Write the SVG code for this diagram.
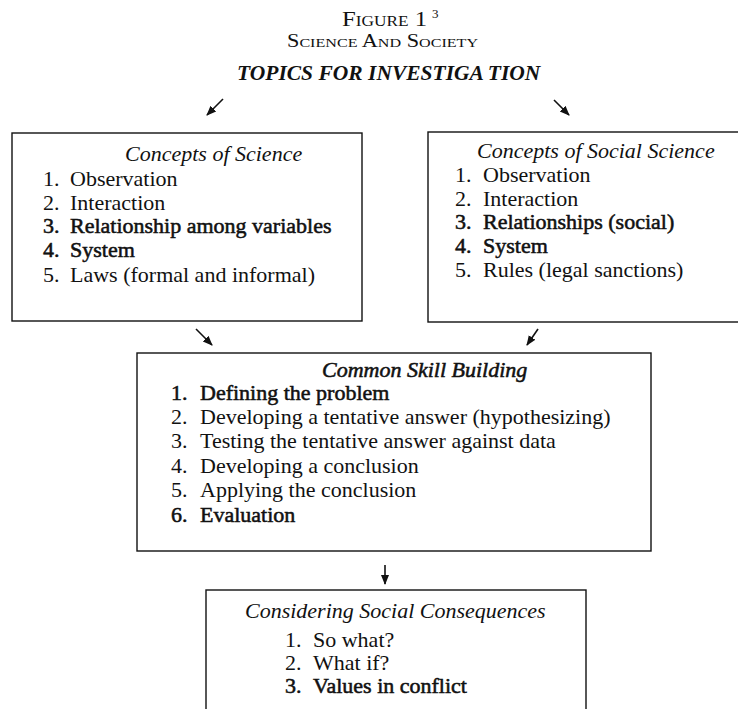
<svg xmlns="http://www.w3.org/2000/svg" width="738" height="709" viewBox="0 0 738 709">
<style>
text{font-family:"Liberation Serif","Times New Roman",serif;fill:#111;}
.t{font-size:22px;}
.h{font-size:22px;font-style:italic;}
.d{stroke:#111;stroke-width:0.55px;}
.box{fill:none;stroke:#111;stroke-width:1.4;}
.arr{stroke:#111;stroke-width:1.6;fill:none;marker-end:url(#ah);}
</style>
<defs>
<marker id="ah" markerUnits="userSpaceOnUse" markerWidth="10" markerHeight="10" viewBox="0 0 10 10" refX="9" refY="5" orient="auto">
<path d="M0,1 L10,5 L0,9 Z" fill="#111"/>
</marker>
</defs>
<rect width="738" height="709" fill="#fff"/>
<g id="title">
<text x="342" y="26" font-size="20" font-variant="small-caps" textLength="85" lengthAdjust="spacingAndGlyphs">Figure 1</text>
<text x="432" y="18" font-size="13">3</text>
<text x="287" y="47" font-size="18" font-variant="small-caps" textLength="191" lengthAdjust="spacingAndGlyphs">Science And Society</text>
<text x="237" y="80" font-size="21.5" font-style="italic" font-weight="bold">TOPICS FOR INVESTIGA<tspan dx="5">TION</tspan></text>
</g>
<g id="connectors">
<line class="arr" x1="223" y1="99" x2="207" y2="115"/>
<line class="arr" x1="554" y1="100" x2="569" y2="115"/>
<line class="arr" x1="196" y1="329" x2="212" y2="345"/>
<line class="arr" x1="538" y1="329" x2="527" y2="345"/>
<line class="arr" x1="385" y1="565" x2="385" y2="584"/>
</g>
<g id="concepts-science">
<rect class="box" x="12" y="133" width="350" height="188"/>
<text class="h" x="125" y="161">Concepts of Science</text>
<text class="t" x="43" y="186">1.</text><text class="t" x="70" y="186">Observation</text>
<text class="t" x="43" y="210">2.</text><text class="t" x="70" y="210">Interaction</text>
<text class="t d" x="43" y="233">3.</text><text class="t d" x="70" y="233">Relationship among variables</text>
<text class="t d" x="43" y="257">4.</text><text class="t d" x="70" y="257">System</text>
<text class="t" x="43" y="282">5.</text><text class="t" x="70" y="282">Laws (formal and informal)</text>
</g>
<g id="concepts-social-science">
<rect class="box" x="428" y="132" width="330" height="190"/>
<text class="h" x="477" y="158">Concepts of Social Science</text>
<text class="t" x="455" y="182">1.</text><text class="t" x="483" y="182">Observation</text>
<text class="t" x="455" y="206">2.</text><text class="t" x="483" y="206">Interaction</text>
<text class="t d" x="455" y="229">3.</text><text class="t d" x="483" y="229">Relationships (social)</text>
<text class="t d" x="455" y="253">4.</text><text class="t d" x="483" y="253">System</text>
<text class="t" x="455" y="277">5.</text><text class="t" x="483" y="277">Rules (legal sanctions)</text>
</g>
<g id="common-skill-building">
<rect class="box" x="137" y="353" width="514" height="198"/>
<text class="h d" x="322" y="377">Common Skill Building</text>
<text class="t d" x="171" y="400">1.</text><text class="t d" x="200" y="400">Defining the problem</text>
<text class="t" x="171" y="424">2.</text><text class="t" x="200" y="424">Developing a tentative answer (hypothesizing)</text>
<text class="t" x="171" y="448">3.</text><text class="t" x="200" y="448">Testing the tentative answer against data</text>
<text class="t" x="171" y="473">4.</text><text class="t" x="200" y="473">Developing a conclusion</text>
<text class="t" x="171" y="497">5.</text><text class="t" x="200" y="497">Applying the conclusion</text>
<text class="t d" x="171" y="522">6.</text><text class="t d" x="200" y="522">Evaluation</text>
</g>
<g id="social-consequences">
<rect class="box" x="206" y="590" width="380" height="140"/>
<text class="h" x="245" y="618">Considering Social Consequences</text>
<text class="t" x="285" y="647">1.</text><text class="t" x="313" y="647">So what?</text>
<text class="t" x="285" y="670">2.</text><text class="t" x="313" y="670">What if?</text>
<text class="t d" x="285" y="693">3.</text><text class="t d" x="313" y="693">Values in conflict</text>
</g>
</svg>
